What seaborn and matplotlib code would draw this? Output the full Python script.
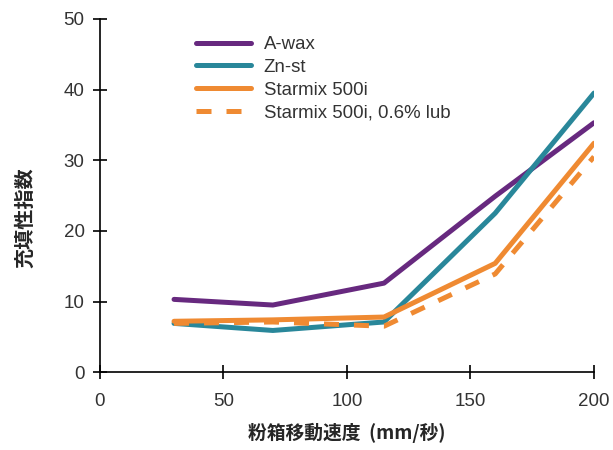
import matplotlib
matplotlib.use("Agg")
import matplotlib.pyplot as plt
import seaborn as sns
import pandas as pd

sns.set_style("white")
plt.rcParams["font.family"] = ["Liberation Sans", "Noto Sans CJK JP", "DejaVu Sans"]

# Data
speed = [30, 70, 115, 160, 200]
a_wax = [10.3, 9.5, 12.6, 24.9, 35.3]
zn_st = [6.9, 5.9, 7.1, 22.5, 39.5]
starmix = [7.2, 7.4, 7.8, 15.4, 32.4]
starmix_lub = [6.9, 7.1, 6.5, 13.9, 30.5]

series = [
    ("A-wax", a_wax, "#67297f", "-"),
    ("Zn-st", zn_st, "#29879a", "-"),
    ("Starmix 500i", starmix, "#ef8a32", "-"),
    ("Starmix 500i, 0.6% lub", starmix_lub, "#ef8a32", (0, (3, 3))),
]

fig = plt.figure(figsize=(6.13, 4.5), dpi=100)
ax = fig.add_axes([0.163, 0.173, 0.806, 0.785])

for name, vals, color, ls in series:
    df = pd.DataFrame({"x": speed, "y": vals})
    sns.lineplot(data=df, x="x", y="y", ax=ax, color=color, lw=3.6,
                 linestyle=ls, label=name)

ax.set_xlim(0, 200)
ax.set_ylim(0, 50)
ax.set_xticks([0, 50, 100, 150, 200])
ax.set_yticks([0, 10, 20, 30, 40, 50])

for s in ["top", "right"]:
    ax.spines[s].set_visible(False)
for s in ["left", "bottom"]:
    ax.spines[s].set_color("black")
    ax.spines[s].set_linewidth(1.2)

ax.tick_params(axis="both", direction="inout", length=10, width=1.2,
               colors="black", labelsize=13.5, labelcolor="#333333")
ax.tick_params(axis="x", bottom=True, pad=10)
ax.tick_params(axis="y", left=True, pad=6)

ax.set_xlabel("粉箱移動速度  (mm/秒)", fontsize=13.5, fontweight="bold",
              family=["Noto Sans CJK JP", "DejaVu Sans"], labelpad=9)
ax.set_ylabel("充填性指数", fontsize=14.5, fontweight="bold",
              family=["Noto Sans CJK JP", "DejaVu Sans"])
ax.yaxis.set_label_coords(-0.13, 0.436)

leg = ax.legend(loc="upper left", bbox_to_anchor=(0.16, 0.998), frameon=False,
                fontsize=13.4, handlelength=2.95, handletextpad=0.7,
                labelspacing=0.3)
for t in leg.get_texts():
    t.set_color("#333333")

fig.savefig("out.png", dpi=100)
